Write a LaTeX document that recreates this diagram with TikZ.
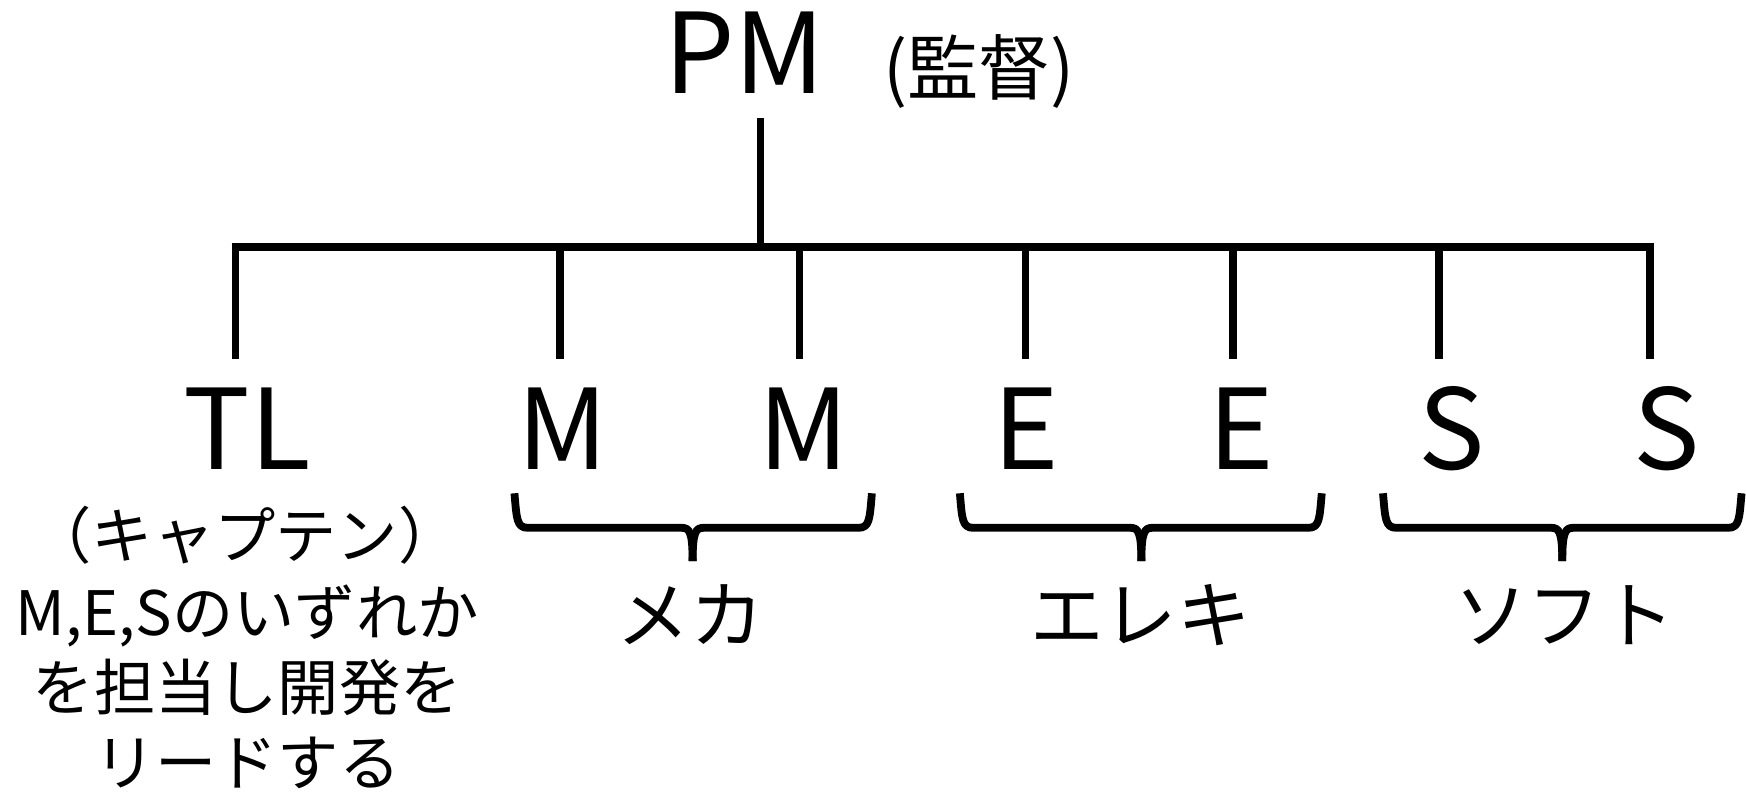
\documentclass[tikz,border=0pt]{standalone}
\usepackage{fontspec}
\setmainfont{Noto Sans CJK JP}
\begin{document}
\begin{tikzpicture}[x=1pt,y=-1pt,
  big/.style={font=\fontsize{100}{100}\selectfont, inner sep=0pt, anchor=base},
  note/.style={font=\fontsize{64}{64}\selectfont, inner sep=0pt, anchor=base},
  jp/.style={font=\fontsize{55}{55}\selectfont, inner sep=0pt, anchor=base},
  grp/.style={font=\fontsize{66}{66}\selectfont, inner sep=0pt, anchor=base},
  bar/.style={line width=7pt},
  drop/.style={line width=7pt},
  bracestyle/.style={line width=7pt, line join=round}]
\useasboundingbox (0,0) rectangle (1568,711);

% top
\node[big] (pm) at (669,84) {PM};
\node[note] (pmnote) at (879,85) {(監督)};
\coordinate (pmfoot) at (683,106);
\coordinate (hub) at (683,222);
\draw[drop] (pmfoot) -- (hub);

% bar
\coordinate (b1) at (208,222);
\coordinate (b7) at (1485.5,222);
\draw[bar] (b1) -- (b7);

% drops
\foreach \i/\x in {1/211.5,2/503,3/718,4/921,5/1107,6/1292,7/1482}{
  \coordinate (t\i) at (\x,222);
  \coordinate (d\i) at (\x,322);
  \draw[drop] (t\i) -- (d\i);
}

% member letters
\node[big] (tl) at (222,422) {TL};
\node[big] (m1) at (505,422) {M};
\node[big] (m2) at (722,422) {M};
\node[big] (e1) at (922,422) {E};
\node[big] (e2) at (1115,422) {E};
\node[big] (s1) at (1304,422) {S};
\node[big] (s2) at (1497,422) {S};

% TL description
\node[jp] (tla) at (220,502) {（キャプテン）};
\node[jp] (tlb) at (222,571) {M,E,Sのいずれか};
\node[jp] (tlc) at (222,638) {を担当し開発を};
\node[jp] (tld) at (222,705) {リードする};

% braces
\foreach \n/\L/\C/\R in {mb/462/622/783, eb/862/1025/1187, sb/1242/1403/1564}{
  \coordinate (\n l) at (\L,443);
  \coordinate (\n c) at (\C,504);
  \coordinate (\n r) at (\R,443);
  \draw[bracestyle] (\n l) .. controls (\L+2,466) and (\L+2,474) .. (\L+12,474)
     -- (\C-10,474) .. controls (\C-3,474) and (\C,477) .. (\n c);
  \draw[bracestyle] (\n r) .. controls (\R-2,466) and (\R-2,474) .. (\R-12,474)
     -- (\C+10,474) .. controls (\C+3,474) and (\C,477) .. (\n c);
}

% group labels
\node[grp] (mech) at (620,577) {メカ};
\node[grp] (elec) at (1024,577) {エレキ};
\node[grp] (soft) at (1405,577) {ソフト};
\end{tikzpicture}
\end{document}
